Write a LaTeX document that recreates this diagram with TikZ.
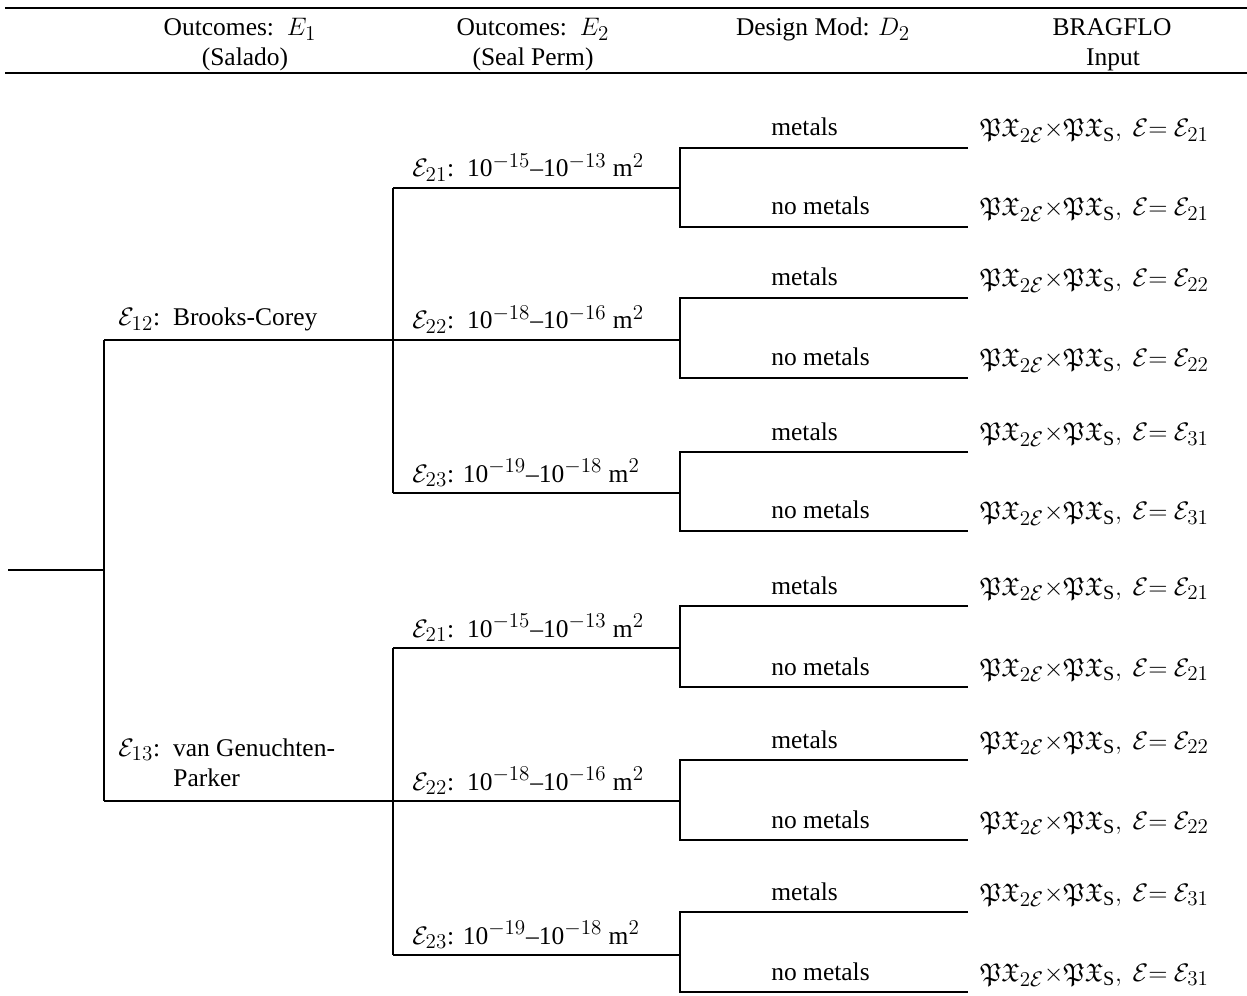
\documentclass[tikz,border=0pt]{standalone}
\usepackage{amssymb}
\usepackage{fontspec}
\setmainfont{Liberation Serif}
\DeclareMathSizes{14.5}{14.5}{11.5}{8.5}
\newcommand{\bragin}[1]{$\mathfrak{P}\mathfrak{X}_{2\mathcal{E}}{\times}\mathfrak{P}\mathfrak{X}_{\mathrm{S}},\ \mathcal{E}{=}\ \mathcal{E}_{#1}$}
\tikzset{
  tree/.style={line width=1pt},
  rule/.style={line width=1.2pt},
  lbl/.style={anchor=base west, inner sep=0pt},
  hdr/.style={anchor=base, inner sep=0pt}
}

\begin{document}
\begin{tikzpicture}[x=0.02cm,y=-0.02cm,font=\fontsize{14.5}{17}\selectfont]
        \useasboundingbox (0,0) rectangle (1247,996);

        % header
        \coordinate (tl) at (5,8);
        \coordinate (tr) at (1247,8);
        \coordinate (bl) at (5,73);
        \coordinate (br) at (1247,73);
        \draw[rule] (tl)--(tr);
        \draw[rule] (bl)--(br);
        \node[hdr] (h1a) at (240,36) {Outcomes:\ \ $E_1$};
        \node[hdr] (h1b) at (245,66) {(Salado)};
        \node[hdr] (h2a) at (533,36) {Outcomes:\ \ $E_2$};
        \node[hdr] (h2b) at (533,66) {(Seal Perm)};
        \node[hdr] (h3a) at (823,36) {Design Mod: $D_2$};
        \node[hdr] (h4a) at (1112,36) {BRAGFLO};
        \node[hdr] (h4b) at (1113,66) {Input};

        % salado
        \coordinate (root) at (8,570);
        \coordinate (s0) at (104,570);
        \coordinate (s12) at (104,340);
        \coordinate (s13) at (104,801);
        \draw[tree] (root)--(s0);
        \draw[tree] (s12)--(s13);
        \node[lbl] (e12) at (118,326) {$\mathcal{E}_{12}$:\ \ Brooks-Corey};
        \node[lbl] (e13) at (118,756) {$\mathcal{E}_{13}$:\ \ van Genuchten-};
        \node[lbl] (e13b) at (173,786) {Parker};

        % seal perm
        \foreach \k/\y in {1/188,2/340,3/493,4/648,5/801,6/955}
        {\coordinate (b\k) at (393,\y);
         \coordinate (c\k) at (680,\y);
         \draw[tree] (b\k)--(c\k);}
        \draw[tree] (s12)--(b2);
        \draw[tree] (s13)--(b5);
        \draw[tree] (b1)--(b3);
        \draw[tree] (b4)--(b6);
        \foreach \k/\y in {1/188,4/648}
        {\node[lbl] (p\k) at (412,\y-11) {$\mathcal{E}_{21}$:\ \ 10$^{-15}$–10$^{-13}$ m$^2$};}
        \foreach \k/\y in {2/340,5/801}
        {\node[lbl] (p\k) at (412,\y-11) {$\mathcal{E}_{22}$:\ \ 10$^{-18}$–10$^{-16}$ m$^2$};}
        \foreach \k/\y in {3/493,6/955}
        {\node[lbl] (p\k) at (412,\y-11) {$\mathcal{E}_{23}$: 10$^{-19}$–10$^{-18}$ m$^2$};}

        % design mod and bragflo input
        \foreach \k/\t/\u/\e in {1/148/227/21,2/298/378/22,3/452/531/31,4/606/687/21,5/760/840/22,6/912/992/31}
        {\coordinate (lt\k) at (680,\t);
         \coordinate (lb\k) at (680,\u);
         \coordinate (et\k) at (968,\t);
         \coordinate (eb\k) at (968,\u);
         \draw[tree] (et\k)--(lt\k)--(lb\k)--(eb\k);
         \node[lbl] (mt\k) at (771,\t-12) {metals};
         \node[lbl] (nm\k) at (771,\u-12) {no metals};
         \node[lbl] (it\k) at (980,\t-11) {\bragin{\e}};
         \node[lbl] (ib\k) at (980,\u-11) {\bragin{\e}};}
        \end{tikzpicture}
\end{document}
